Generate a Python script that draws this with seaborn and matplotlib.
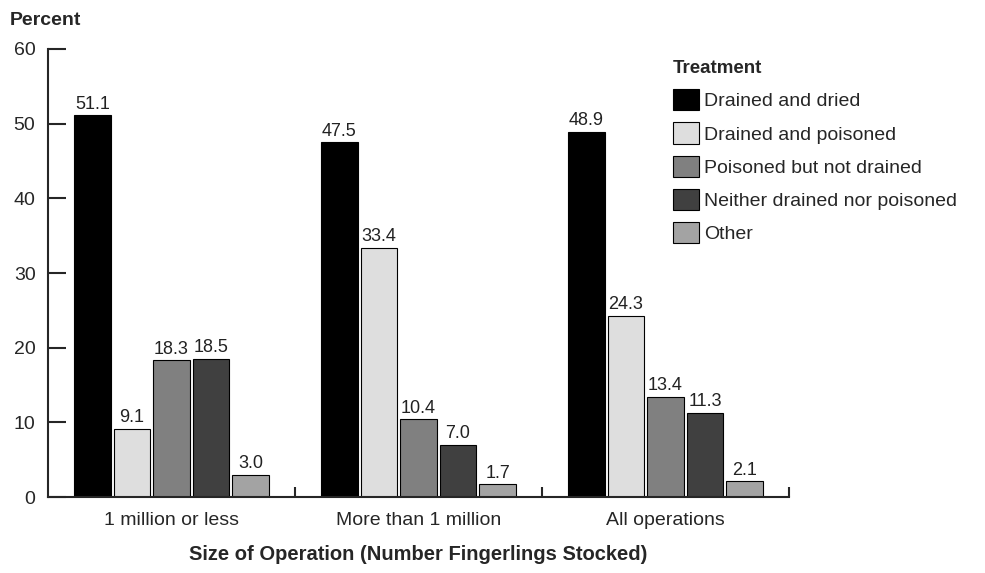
import pandas as pd
import matplotlib
matplotlib.use("Agg")
import matplotlib.pyplot as plt
import seaborn as sns
from matplotlib.patches import Patch

# === Data ===
sizes = ["1 million or less", "More than 1 million", "All operations"]
treatments = ["Drained and dried", "Drained and poisoned", "Poisoned but not drained",
              "Neither drained nor poisoned", "Other"]
drained_dried = [51.1, 47.5, 48.9]
drained_poisoned = [9.1, 33.4, 24.3]
poisoned_not_drained = [18.3, 10.4, 13.4]
neither = [18.5, 7.0, 11.3]
other = [3.0, 1.7, 2.1]
colors = ["#000000", "#dedede", "#808080", "#404040", "#a3a3a3"]

series = [drained_dried, drained_poisoned, poisoned_not_drained, neither, other]
rows = []
for t, vals in zip(treatments, series):
    for s, v in zip(sizes, vals):
        rows.append({"Size": s, "Treatment": t, "Percent": v})
df = pd.DataFrame(rows)

sns.set_style("ticks")
plt.rcParams["font.family"] = ["Liberation Sans", "DejaVu Sans"]

fig = plt.figure(figsize=(9.85, 5.73), dpi=100)
ax = fig.add_axes([0.0487, 0.1326, 0.7523, 0.7819])

sns.barplot(data=df, x="Size", y="Percent", hue="Treatment", order=sizes,
            hue_order=treatments, palette=colors, width=0.8, gap=0.08,
            edgecolor="black", linewidth=0.8, legend=False, ax=ax)

for cont in ax.containers:
    ax.bar_label(cont, fmt="%.1f", padding=2, fontsize=13, color="#222222")

ax.set_xlim(-0.5, 2.5)
ax.set_ylim(0, 60)
ax.set_yticks([0, 10, 20, 30, 40, 50, 60])
ax.tick_params(axis="y", direction="in", length=13, width=1.5, labelsize=14, pad=9)
ax.tick_params(axis="x", which="major", length=0, labelsize=14, pad=11)
ax.set_xticks([0.5, 1.5, 2.5], minor=True)
ax.tick_params(axis="x", which="minor", direction="in", length=7, width=1.5)
for sp in ["top", "right"]:
    ax.spines[sp].set_visible(False)
ax.spines["left"].set_linewidth(1.5)
ax.spines["bottom"].set_linewidth(1.5)

ax.set_ylabel("")
ax.set_xlabel("Size of Operation (Number Fingerlings Stocked)", fontsize=14.5,
              fontweight="bold", labelpad=11)
fig.text(0.01, 0.965, "Percent", fontsize=14, fontweight="bold", ha="left", va="center")

handles = [Patch(facecolor=c, edgecolor="black", linewidth=0.8) for c in colors]
leg = fig.legend(handles, treatments, title="Treatment", loc="upper left",
                 bbox_to_anchor=(0.683, 0.895), frameon=False, fontsize=14,
                 title_fontproperties={"weight": "bold", "size": 13.5},
                 handlelength=1.35, handleheight=1.3, handletextpad=0.25,
                 labelspacing=0.62, borderaxespad=0, borderpad=0)
leg._legend_box.align = "left"

fig.savefig("out.png", dpi=100)
